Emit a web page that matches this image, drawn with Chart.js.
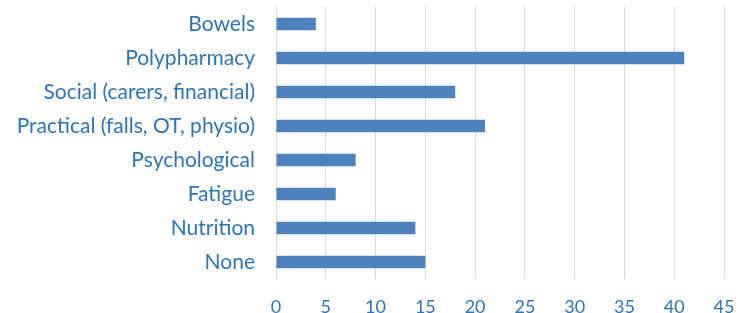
<!DOCTYPE html>
<html>
<head>
<meta charset="utf-8">
<script src="https://cdn.jsdelivr.net/npm/chart.js@4/dist/chart.umd.min.js"></script>
<style>
html,body{margin:0;padding:0;background:#fff;}
#wrap{width:739px;height:313px;position:relative;}
</style>
</head>
<body>
<div id="wrap"><canvas id="c"></canvas></div>
<script>
const categories = ["Bowels","Polypharmacy","Social (carers, financial)","Practical (falls, OT, physio)","Psychological","Fatigue","Nutrition","None"];
const values = [4,41,18,21,8,6,14,15];
const xMin = 0, xMax = 45, xStep = 5;

const textColor = "#2E75B6";
new Chart(document.getElementById("c"), {
  type: "bar",
  data: {
    labels: categories,
    datasets: [{
      data: values,
      backgroundColor: "#4F81BD",
      borderWidth: 0,
      categoryPercentage: 0.74,
      barPercentage: 0.5
    }]
  },
  options: {
    indexAxis: "y",
    responsive: true,
    maintainAspectRatio: false,
    animation: false,
    layout: {padding: {left: 0, right: 15, top: 7, bottom: 0}},
    plugins: {legend: {display: false}, tooltip: {enabled: false}},
    scales: {
      x: {
        min: xMin, max: xMax,
        ticks: {stepSize: xStep, color: textColor, font: {family: "Lato", size: 18}, padding: 17},
        grid: {color: "#D9D9D9", lineWidth: 1, drawTicks: false},
        border: {display: false},
        afterFit: (s) => { s.height = 34; s.paddingLeft = 0; s.paddingRight = 0; }
      },
      y: {
        ticks: {color: textColor, font: {family: "Lato", size: 21}, padding: 21},
        grid: {display: false, drawTicks: false},
        border: {display: true, color: "#D9D9D9"},
        afterFit: (s) => { s.width = 276; s.paddingTop = 0; s.paddingBottom = 0; }
      }
    }
  }
});
</script>
</body>
</html>
